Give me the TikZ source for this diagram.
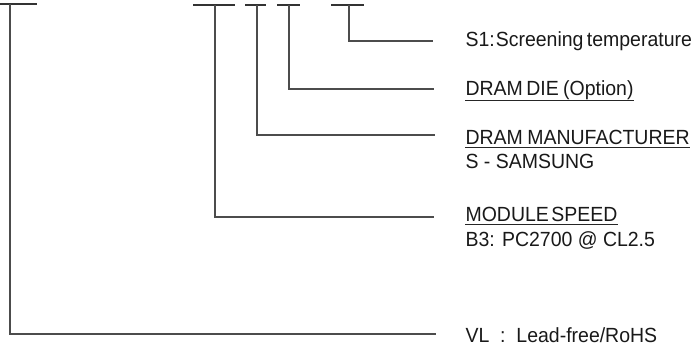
\documentclass[tikz,border=0pt]{standalone}
\usepackage{fontspec}
\setmainfont{Liberation Sans}[FakeStretch=0.95]
\usetikzlibrary{positioning}

\begin{document}
\begin{tikzpicture}[x=1pt,y=-1pt,line width=1.2pt,
    lead/.style={draw=black!70},
    bar/.style={draw=black!80},
    label/.style={anchor=base west,inner sep=0pt,text=black!90,
      font=\fontsize{20.5}{25}\selectfont},
    uline/.style={draw=black!85,line width=1pt}]
  \useasboundingbox (0,0) rectangle (698,345);
  % top marks of the part number
  \coordinate (vl) at (10,4);
  \coordinate (spd) at (215,5);
  \coordinate (mfr) at (257,5);
  \coordinate (die) at (289,5);
  \coordinate (scr) at (349,5);
  \draw[bar] (0,4) -- (37,4);
  \draw[bar] (193,5) -- (235,5);
  \draw[bar] (245,5) -- (266,5);
  \draw[bar] (277,5) -- (300,5);
  \draw[bar] (331,5) -- (364,5);
  % line ends
  \coordinate (scr-e) at (433,41);
  \coordinate (die-e) at (434,89);
  \coordinate (mfr-e) at (435,135);
  \coordinate (spd-e) at (434,217);
  \coordinate (vl-e) at (436,334);
  \draw[lead] (scr) |- (scr-e);
  \draw[lead] (die) |- (die-e);
  \draw[lead] (mfr) |- (mfr-e);
  \draw[lead] (spd) |- (spd-e);
  \draw[lead] (vl) |- (vl-e);
  % texts
  \node[label] (scr-t) at (465,47) {S1:\hspace{1pt}Screening\hspace{-2pt} temperature};
  \node[label] (die-t) at (465,95) {DRAM\hspace{-2pt} DIE\hspace{-1pt} (Option)};
  \node[label] (mfr-t) at (465,144) {DRAM\hspace{-1pt} MANUFACTURER};
  \node[label] (mfr-v) at (465,168) {S - SAMSUNG};
  \node[label] (spd-t) at (465,221) {MODULE\hspace{-3pt} SPEED};
  \node[label] (spd-v) at (465,246) {B3: PC2700 @ CL2.5};
  \node[label] (vl-t) at (465,342) {VL\ \ :\ \ Lead-free/RoHS};
  \draw[uline] ([yshift=-5pt]die-t.base west) -- ([yshift=-5pt]die-t.base east);
  \draw[uline] ([yshift=-3pt]mfr-t.base west) -- ([yshift=-3pt]mfr-t.base east);
  \draw[uline] ([yshift=-3pt]spd-t.base west) -- ([yshift=-3pt]spd-t.base east);
\end{tikzpicture}
\end{document}
